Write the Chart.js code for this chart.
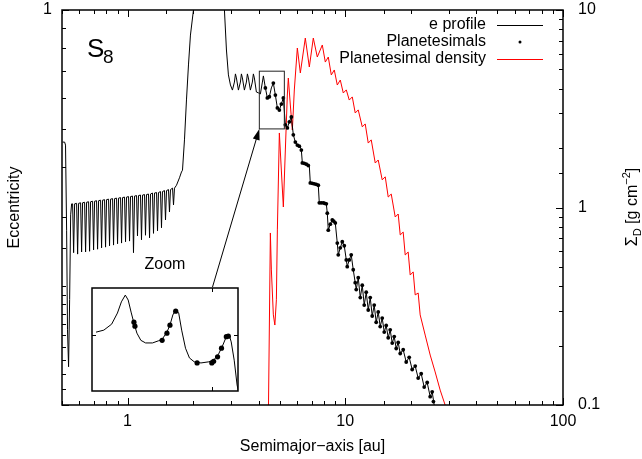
<!DOCTYPE html>
<html>
<head>
<meta charset="utf-8">
<script src="https://cdn.jsdelivr.net/npm/chart.js@4/dist/chart.umd.min.js"></script>
<style>
  body { margin: 0; background: #fff; }
  #wrap { position: relative; width: 642px; height: 459px; }
  #inset { position: absolute; left: 91px; top: 287px; }
</style>
</head>
<body>
<div id="wrap">
  <canvas id="main" width="642" height="459"></canvas>
  <canvas id="inset" width="148" height="105"></canvas>
</div>
<script>
// e profile: semimajor axis [au] and eccentricity
const profileA = [
  0.503, 0.514, 0.519, 0.525, 0.530, 0.536, 0.542, 0.548, 0.5535,
  0.5594, 0.5654, 0.5714, 0.5836, 0.5898, 0.5960, 0.6088, 0.6152, 0.6215,
  0.6350, 0.6417, 0.6485, 0.6624, 0.6694, 0.6765, 0.6910, 0.6983, 0.7057,
  0.7207, 0.7284, 0.7362, 0.7519, 0.7598, 0.7679, 0.7843, 0.7925, 0.8010,
  0.8182, 0.8266, 0.8356, 0.8535, 0.8624, 0.8718, 0.8904, 0.8998, 0.9094,
  0.9288, 0.9386, 0.9486, 0.9687, 0.9791, 0.9895, 1.0106, 1.0214, 1.032,
  1.054, 1.065, 1.077, 1.100, 1.111, 1.123, 1.147, 1.159, 1.172,
  1.197, 1.209, 1.222, 1.248, 1.262, 1.275, 1.302, 1.316, 1.330,
  1.359, 1.373, 1.387, 1.417, 1.432, 1.447, 1.478, 1.494, 1.510,
  1.542, 1.558, 1.575,
  1.609, 1.626, 1.643, 1.678, 1.732, 1.769, 1.788, 1.826, 1.865, 1.905, 1.945, 2.008, 2.073, 2.699,
  2.786, 2.846, 2.906, 2.969, 3.032, 3.097, 3.13, 3.162, 3.230, 3.299, 3.334,
  3.369, 3.441, 3.515, 3.552, 3.589, 3.666, 3.744, 3.784, 3.824, 3.906, 3.990,
  4.075, 4.163, 4.206, 4.296, 4.387, 4.481, 4.577, 4.674, 4.775, 4.877, 4.980, 5.086, 5.195, 5.306, 5.419,
  5.535, 5.653, 5.774, 5.897, 6.023, 6.218, 6.284, 6.351, 6.623, 6.837,
  6.909, 7.207, 7.518, 7.598, 7.927, 8.182, 8.268, 8.356, 8.535, 8.718,
  8.998, 9.190, 9.288, 9.486, 9.688, 9.894, 10.11, 10.21, 10.43, 10.65, 10.88, 11.11,
  11.23, 11.47, 11.72, 11.97, 12.22, 12.48, 12.75, 13.02, 13.30, 13.58,
  13.87, 14.17, 14.47, 14.78, 15.10, 15.42, 15.75, 16.08, 16.43, 16.78,
  17.14, 17.50, 17.88, 18.45, 19.05, 19.66, 20.29, 20.95, 21.62, 22.32,
  23.04, 23.78, 24.55, 25.07, 25.61, 26.43
];
const profileE = [
  0.463, 0.463, 0.455, 0.277, 0.155, 0.125, 0.185, 0.303, 0.323,
  0.323, 0.243, 0.323, 0.324, 0.241, 0.324, 0.325, 0.244, 0.325,
  0.326, 0.244, 0.326, 0.327, 0.245, 0.327, 0.328, 0.247, 0.328,
  0.329, 0.248, 0.329, 0.330, 0.250, 0.330, 0.331, 0.251, 0.331,
  0.332, 0.253, 0.332, 0.333, 0.254, 0.333, 0.334, 0.256, 0.334,
  0.335, 0.257, 0.335, 0.336, 0.259, 0.336, 0.337, 0.260, 0.337,
  0.338, 0.243, 0.338, 0.339, 0.268, 0.339, 0.340, 0.262, 0.340,
  0.341, 0.269, 0.341, 0.342, 0.265, 0.342, 0.344, 0.272, 0.344,
  0.345, 0.276, 0.345, 0.347, 0.281, 0.347, 0.349, 0.294, 0.349,
  0.351, 0.308, 0.351,
  0.354, 0.321, 0.354, 0.360, 0.376, 0.389, 0.393, 0.469, 0.592, 0.726, 0.864, 1.0, 1.6, 1.6,
  1.0, 0.792, 0.685, 0.646, 0.627, 0.657, 0.689, 0.673, 0.627, 0.657, 0.689,
  0.673, 0.627, 0.657, 0.689, 0.673, 0.627, 0.657, 0.689, 0.673, 0.620, 0.617,
  0.613, 0.657, 0.681, 0.635, 0.599, 0.603, 0.635, 0.653, 0.609, 0.565, 0.558, 0.578, 0.599, 0.512, 0.503,
  0.521, 0.536, 0.483, 0.463, 0.455, 0.450, 0.442, 0.410, 0.407, 0.403,
  0.365, 0.363, 0.360, 0.325, 0.325, 0.323, 0.306, 0.277, 0.287, 0.294,
  0.289, 0.257, 0.240, 0.250, 0.259, 0.253, 0.233, 0.224, 0.233, 0.240, 0.220, 0.204,
  0.196, 0.210, 0.187, 0.201, 0.179, 0.193, 0.174, 0.187, 0.168, 0.179,
  0.162, 0.172, 0.158, 0.166, 0.153, 0.159, 0.148, 0.155, 0.1435, 0.149,
  0.139, 0.144, 0.135, 0.138, 0.1285, 0.132, 0.123, 0.1255, 0.117, 0.120,
  0.111, 0.114, 0.105, 0.108, 0.100, 0.090
];

// planetesimals
const planA = [
  4.296, 4.387, 4.481, 4.674, 4.775, 4.877, 4.980, 5.086, 5.195, 5.306,
  5.419, 5.535, 5.653, 5.774, 5.897, 6.023, 6.150, 6.284, 6.351, 6.480,
  6.623, 6.760, 6.909, 7.060, 7.207, 7.360, 7.518, 7.598, 7.760, 7.927,
  8.050, 8.182, 8.268, 8.356, 8.535, 8.718, 8.850, 8.998, 9.190, 9.288,
  9.486, 9.688, 9.894, 10.11, 10.21, 10.43, 10.65, 10.88, 11.11, 11.23,
  11.47, 11.72, 11.97, 12.22, 12.48, 12.75, 13.02, 13.30, 13.58, 13.87,
  14.17, 14.47, 14.78, 15.10, 15.42, 15.75, 16.08, 16.43, 16.78, 17.14,
  17.50, 17.88, 18.45, 19.05, 19.66, 20.29, 20.95, 21.62, 22.32, 23.04,
  23.78, 24.55, 25.07, 25.40
];
const planE = [
  0.635, 0.599, 0.603, 0.653, 0.609, 0.565, 0.558, 0.578, 0.599, 0.512,
  0.503, 0.521, 0.536, 0.483, 0.463, 0.455, 0.452, 0.442, 0.410, 0.409,
  0.407, 0.404, 0.365, 0.364, 0.363, 0.362, 0.360, 0.325, 0.325, 0.325,
  0.324, 0.323, 0.306, 0.277, 0.287, 0.294, 0.292, 0.289, 0.257, 0.240,
  0.250, 0.259, 0.253, 0.233, 0.224, 0.233, 0.240, 0.220, 0.204, 0.196,
  0.210, 0.187, 0.201, 0.179, 0.193, 0.174, 0.187, 0.168, 0.179, 0.162,
  0.172, 0.158, 0.166, 0.153, 0.159, 0.148, 0.155, 0.1435, 0.149, 0.139,
  0.144, 0.135, 0.138, 0.1285, 0.132, 0.123, 0.1255, 0.117, 0.120, 0.111,
  0.114, 0.105, 0.108, 0.102
];

// planetesimal density [g cm^-2]
const densA = [
  4.436, 4.529, 4.577, 4.674, 4.749, 4.826, 4.877, 4.980, 5.086, 5.195,
  5.306, 5.419, 5.476, 5.594, 5.714, 5.834, 6.023, 6.218, 6.553, 6.837,
  7.132, 7.439, 7.844, 8.096, 8.356, 8.627, 8.903, 9.190, 9.486, 9.791,
  10.11, 10.43, 10.77, 11.11, 11.47, 11.97, 12.35, 12.75, 13.16, 13.73,
  14.17, 14.78, 15.26, 15.75, 16.26, 16.96, 17.50, 17.88, 18.45, 18.85,
  19.45, 19.87, 20.51, 20.95, 21.62, 22.08, 23.28, 24.55, 25.87, 27.28,
  28.75, 29.37
];
const densS = [
  0.09, 0.743, 0.483, 0.286, 0.254, 0.341, 0.770, 2.384, 1.548, 1.006,
  1.955, 3.712, 4.525, 3.304, 2.468, 3.935, 6.42, 4.80, 7.21, 5.145,
  7.21, 5.78, 6.65, 5.45, 5.78, 4.69, 4.97, 4.17, 4.42, 3.80,
  3.94, 3.50, 3.63, 3.01, 3.12, 2.56, 2.65, 2.12, 2.20, 1.68,
  1.74, 1.38, 1.43, 1.13, 1.17, 0.895, 0.927, 0.726, 0.751, 0.575,
  0.595, 0.455, 0.472, 0.361, 0.369, 0.286, 0.226, 0.179, 0.147, 0.119,
  0.100, 0.092
];

// zoomed view
const insetLineA = [
  4.03, 4.089, 4.149, 4.194, 4.225, 4.256, 4.279, 4.302, 4.325, 4.349,
  4.381, 4.420, 4.477, 4.526, 4.558, 4.599, 4.625, 4.650, 4.675, 4.701,
  4.727, 4.761, 4.796, 4.839, 4.900, 4.972, 5.017, 5.063, 5.100, 5.137,
  5.165, 5.184, 5.213, 5.241, 5.256
];
const insetLineE = [
  0.606, 0.610, 0.622, 0.645, 0.669, 0.684, 0.673, 0.647, 0.624, 0.604,
  0.590, 0.585, 0.585, 0.589, 0.592, 0.606, 0.620, 0.641, 0.652, 0.645,
  0.610, 0.575, 0.557, 0.550, 0.548, 0.550, 0.553, 0.564, 0.579, 0.597,
  0.600, 0.587, 0.553, 0.510, 0.498
];
const insetDotA = [4.325, 4.333, 4.558, 4.599, 4.625, 4.675, 4.865, 5.000, 5.017, 5.054, 5.091, 5.137, 5.156];
const insetDotE = [0.626, 0.618, 0.590, 0.604, 0.620, 0.649, 0.548, 0.548, 0.551, 0.559, 0.575, 0.597, 0.598];

// tick labels
const xLabels = [1, 10, 100];
const eLabels = [1];
const sigmaLabels = [0.1, 1, 10];
const insetTickA = [5];
const insetTickE = [0.6];

// zoom box and arrow (data units)
const zoomA = [4.03, 5.25];
const zoomE = [0.5, 0.7];
const arrowFrom = [2.45, 0.198];

const FONT = "'Liberation Sans', Arial, Helvetica, sans-serif";
Chart.defaults.font.family = FONT;
Chart.defaults.font.size = 16;
Chart.defaults.color = '#000';

function pairs(xs, ys) {
  return xs.map((x, i) => ({ x: x, y: ys[i] }));
}

function isDecade(v) {
  const l = Math.log10(v);
  return Math.abs(l - Math.round(l)) < 1e-6;
}

function pickLabel(list) {
  return (v) => {
    const hit = list.find((l) => Math.abs(v / l - 1) < 1e-6);
    return hit === undefined ? '' : String(hit);
  };
}

// drop the label overhang so the plot box lands where the layout says
function fixBox(size) {
  return (s) => {
    if (size.width !== undefined) s.width = size.width;
    if (size.height !== undefined) s.height = size.height;
    s.paddingTop = 0;
    s.paddingBottom = 0;
    s.paddingLeft = 0;
    s.paddingRight = 0;
  };
}

// white page behind the plot
const whiteBg = {
  id: 'whiteBg',
  beforeDraw(chart) {
    const ctx = chart.ctx;
    ctx.save();
    ctx.fillStyle = '#fff';
    ctx.fillRect(0, 0, chart.width, chart.height);
    ctx.restore();
  }
};

// gnuplot style frame with ticks pointing inwards
function makeFrameTicks(cfg) {
  return {
    id: 'frameTicks',
    afterDatasetsDraw(chart) {
      const { ctx, chartArea: ca } = chart;
      ctx.save();
      ctx.strokeStyle = '#000';
      ctx.lineWidth = 1;
      cfg.axes.forEach((ax) => {
        const scale = chart.scales[ax.id];
        const values = ax.values || scale.ticks.map((t) => t.value);
        values.forEach((v) => {
          const p = Math.round(scale.getPixelForValue(v)) + 0.5;
          const len = isDecade(v) ? cfg.major : cfg.minor;
          ax.sides.forEach((side) => {
            ctx.beginPath();
            if (side === 'bottom') { ctx.moveTo(p, ca.bottom); ctx.lineTo(p, ca.bottom - len); }
            if (side === 'top') { ctx.moveTo(p, ca.top); ctx.lineTo(p, ca.top + len); }
            if (side === 'left') { ctx.moveTo(ca.left, p); ctx.lineTo(ca.left + len, p); }
            if (side === 'right') { ctx.moveTo(ca.right, p); ctx.lineTo(ca.right - len, p); }
            ctx.stroke();
          });
        });
      });
      ctx.lineWidth = cfg.frameWidth;
      ctx.strokeRect(ca.left, ca.top, ca.right - ca.left, ca.bottom - ca.top);
      ctx.restore();
    }
  };
}

// zoom box, arrow, key, labels
const overlay = {
  id: 'overlay',
  afterDatasetsDraw(chart) {
    const ctx = chart.ctx;
    const xs = chart.scales.x, ys = chart.scales.y;
    const l = xs.getPixelForValue(zoomA[0]), r = xs.getPixelForValue(zoomA[1]);
    const t = ys.getPixelForValue(zoomE[1]), b = ys.getPixelForValue(zoomE[0]);
    ctx.save();
    ctx.strokeStyle = '#222';
    ctx.lineWidth = 1;
    ctx.strokeRect(l, t, r - l, b - t);

    const x0 = xs.getPixelForValue(arrowFrom[0]), y0 = ys.getPixelForValue(arrowFrom[1]);
    const ang = Math.atan2(b - y0, l - x0);
    const c = Math.cos(ang), s = Math.sin(ang);
    ctx.strokeStyle = '#000';
    ctx.beginPath();
    ctx.moveTo(x0, y0);
    ctx.lineTo(l - 9 * c, b - 9 * s);
    ctx.stroke();
    ctx.fillStyle = '#000';
    ctx.beginPath();
    ctx.moveTo(l, b);
    ctx.lineTo(l - 11 * c + 3.5 * s, b - 11 * s - 3.5 * c);
    ctx.lineTo(l - 11 * c - 3.5 * s, b - 11 * s + 3.5 * c);
    ctx.closePath();
    ctx.fill();
    ctx.restore();
  },
  afterDraw(chart) {
    const ctx = chart.ctx;
    ctx.save();
    ctx.fillStyle = '#000';

    // key
    const rows = [
      { text: 'e profile', kind: 'line', color: '#000', y: 25 },
      { text: 'Planetesimals', kind: 'dot', color: '#000', y: 42 },
      { text: 'Planetesimal density', kind: 'line', color: '#ff0000', y: 59 }
    ];
    ctx.font = '16px ' + FONT;
    ctx.textAlign = 'right';
    ctx.textBaseline = 'middle';
    rows.forEach((row) => {
      ctx.fillStyle = '#000';
      ctx.fillText(row.text, 486, row.y);
      if (row.kind === 'line') {
        ctx.strokeStyle = row.color;
        ctx.lineWidth = 1;
        ctx.beginPath();
        ctx.moveTo(497, row.y + 0.5);
        ctx.lineTo(543, row.y + 0.5);
        ctx.stroke();
      } else {
        ctx.fillStyle = row.color;
        ctx.beginPath();
        ctx.arc(520, row.y, 1.5, 0, Math.PI * 2);
        ctx.fill();
      }
    });

    // panel name
    ctx.fillStyle = '#000';
    ctx.textAlign = 'left';
    ctx.textBaseline = 'alphabetic';
    ctx.font = '26px ' + FONT;
    ctx.fillText('S', 87, 57);
    ctx.font = '19px ' + FONT;
    ctx.fillText('8', 103, 63);

    // zoom note
    ctx.font = '16px ' + FONT;
    ctx.textAlign = 'center';
    ctx.textBaseline = 'middle';
    ctx.fillText('Zoom', 165, 265);

    // right axis title
    ctx.translate(637, 207);
    ctx.rotate(-Math.PI / 2);
    const parts = [
      { t: '\u03A3', size: 16, dy: 0 },
      { t: 'D', size: 11, dy: 4 },
      { t: ' [g cm', size: 16, dy: 0 },
      { t: '\u22122', size: 11, dy: -7 },
      { t: ']', size: 16, dy: 0 }
    ];
    let total = 0;
    parts.forEach((p) => { ctx.font = p.size + 'px ' + FONT; p.w = ctx.measureText(p.t).width; total += p.w; });
    let cx = -total / 2;
    ctx.textAlign = 'left';
    ctx.textBaseline = 'alphabetic';
    parts.forEach((p) => {
      ctx.font = p.size + 'px ' + FONT;
      ctx.fillText(p.t, cx, p.dy);
      cx += p.w;
    });
    ctx.restore();
  }
};

new Chart(document.getElementById('main'), {
  type: 'scatter',
  data: {
    datasets: [
      {
        label: 'Planetesimals',
        data: pairs(planA, planE),
        yAxisID: 'y',
        showLine: false,
        pointRadius: 1.9,
        pointBackgroundColor: '#000',
        pointBorderWidth: 0
      },
      {
        label: 'e profile',
        data: pairs(profileA, profileE),
        yAxisID: 'y',
        showLine: true,
        borderColor: '#000',
        borderWidth: 1,
        pointRadius: 0,
        tension: 0
      },
      {
        label: 'Planetesimal density',
        data: pairs(densA, densS),
        yAxisID: 'y2',
        showLine: true,
        borderColor: '#ff0000',
        borderWidth: 1,
        pointRadius: 0,
        tension: 0
      }
    ]
  },
  options: {
    responsive: false,
    animation: false,
    events: [],
    layout: { autoPadding: false, padding: { top: 10, left: 0, right: 0, bottom: 0 } },
    plugins: {
      legend: { display: false },
      tooltip: { enabled: false }
    },
    scales: {
      x: {
        type: 'logarithmic',
        min: 0.5,
        max: 100,
        position: 'bottom',
        grid: { display: false, drawTicks: false },
        border: { display: false },
        ticks: { autoSkip: false, maxRotation: 0, padding: 7, callback: pickLabel(xLabels) },
        title: { display: true, text: 'Semimajor\u2212axis [au]', padding: { top: 0, bottom: 3 } },
        afterFit: fixBox({ height: 54 })
      },
      y: {
        type: 'logarithmic',
        min: 0.1,
        max: 1,
        position: 'left',
        grid: { display: false, drawTicks: false },
        border: { display: false },
        ticks: { autoSkip: false, padding: 10, callback: pickLabel(eLabels) },
        title: { display: true, text: 'Eccentricity', padding: { top: 5, bottom: 0 } },
        afterFit: fixBox({ width: 62 })
      },
      y2: {
        type: 'logarithmic',
        min: 0.1,
        max: 10,
        position: 'right',
        grid: { display: false, drawTicks: false },
        border: { display: false },
        ticks: { autoSkip: false, padding: 15, callback: pickLabel(sigmaLabels) },
        afterFit: fixBox({ width: 79 })
      }
    }
  },
  plugins: [whiteBg, overlay, makeFrameTicks({
    major: 7, minor: 4, frameWidth: 1.5,
    axes: [
      { id: 'x', sides: ['bottom', 'top'] },
      { id: 'y', sides: ['left'] },
      { id: 'y2', sides: ['right'] }
    ]
  })]
});

new Chart(document.getElementById('inset'), {
  type: 'scatter',
  data: {
    datasets: [
      {
        data: pairs(insetDotA, insetDotE),
        showLine: false,
        pointRadius: 2.6,
        pointBackgroundColor: '#000',
        pointBorderWidth: 0
      },
      {
        data: pairs(insetLineA, insetLineE),
        showLine: true,
        borderColor: '#000',
        borderWidth: 1,
        pointRadius: 0,
        tension: 0
      }
    ]
  },
  options: {
    responsive: false,
    animation: false,
    events: [],
    layout: { autoPadding: false, padding: 1 },
    plugins: {
      legend: { display: false },
      tooltip: { enabled: false }
    },
    scales: {
      x: { type: 'logarithmic', min: zoomA[0], max: zoomA[1], display: false },
      y: { type: 'logarithmic', min: zoomE[0], max: zoomE[1], display: false }
    }
  },
  plugins: [whiteBg, makeFrameTicks({
    major: 4, minor: 4, frameWidth: 1.5,
    axes: [
      { id: 'x', sides: ['bottom', 'top'], values: insetTickA },
      { id: 'y', sides: ['left', 'right'], values: insetTickE }
    ]
  })]
});
</script>
</body>
</html>
